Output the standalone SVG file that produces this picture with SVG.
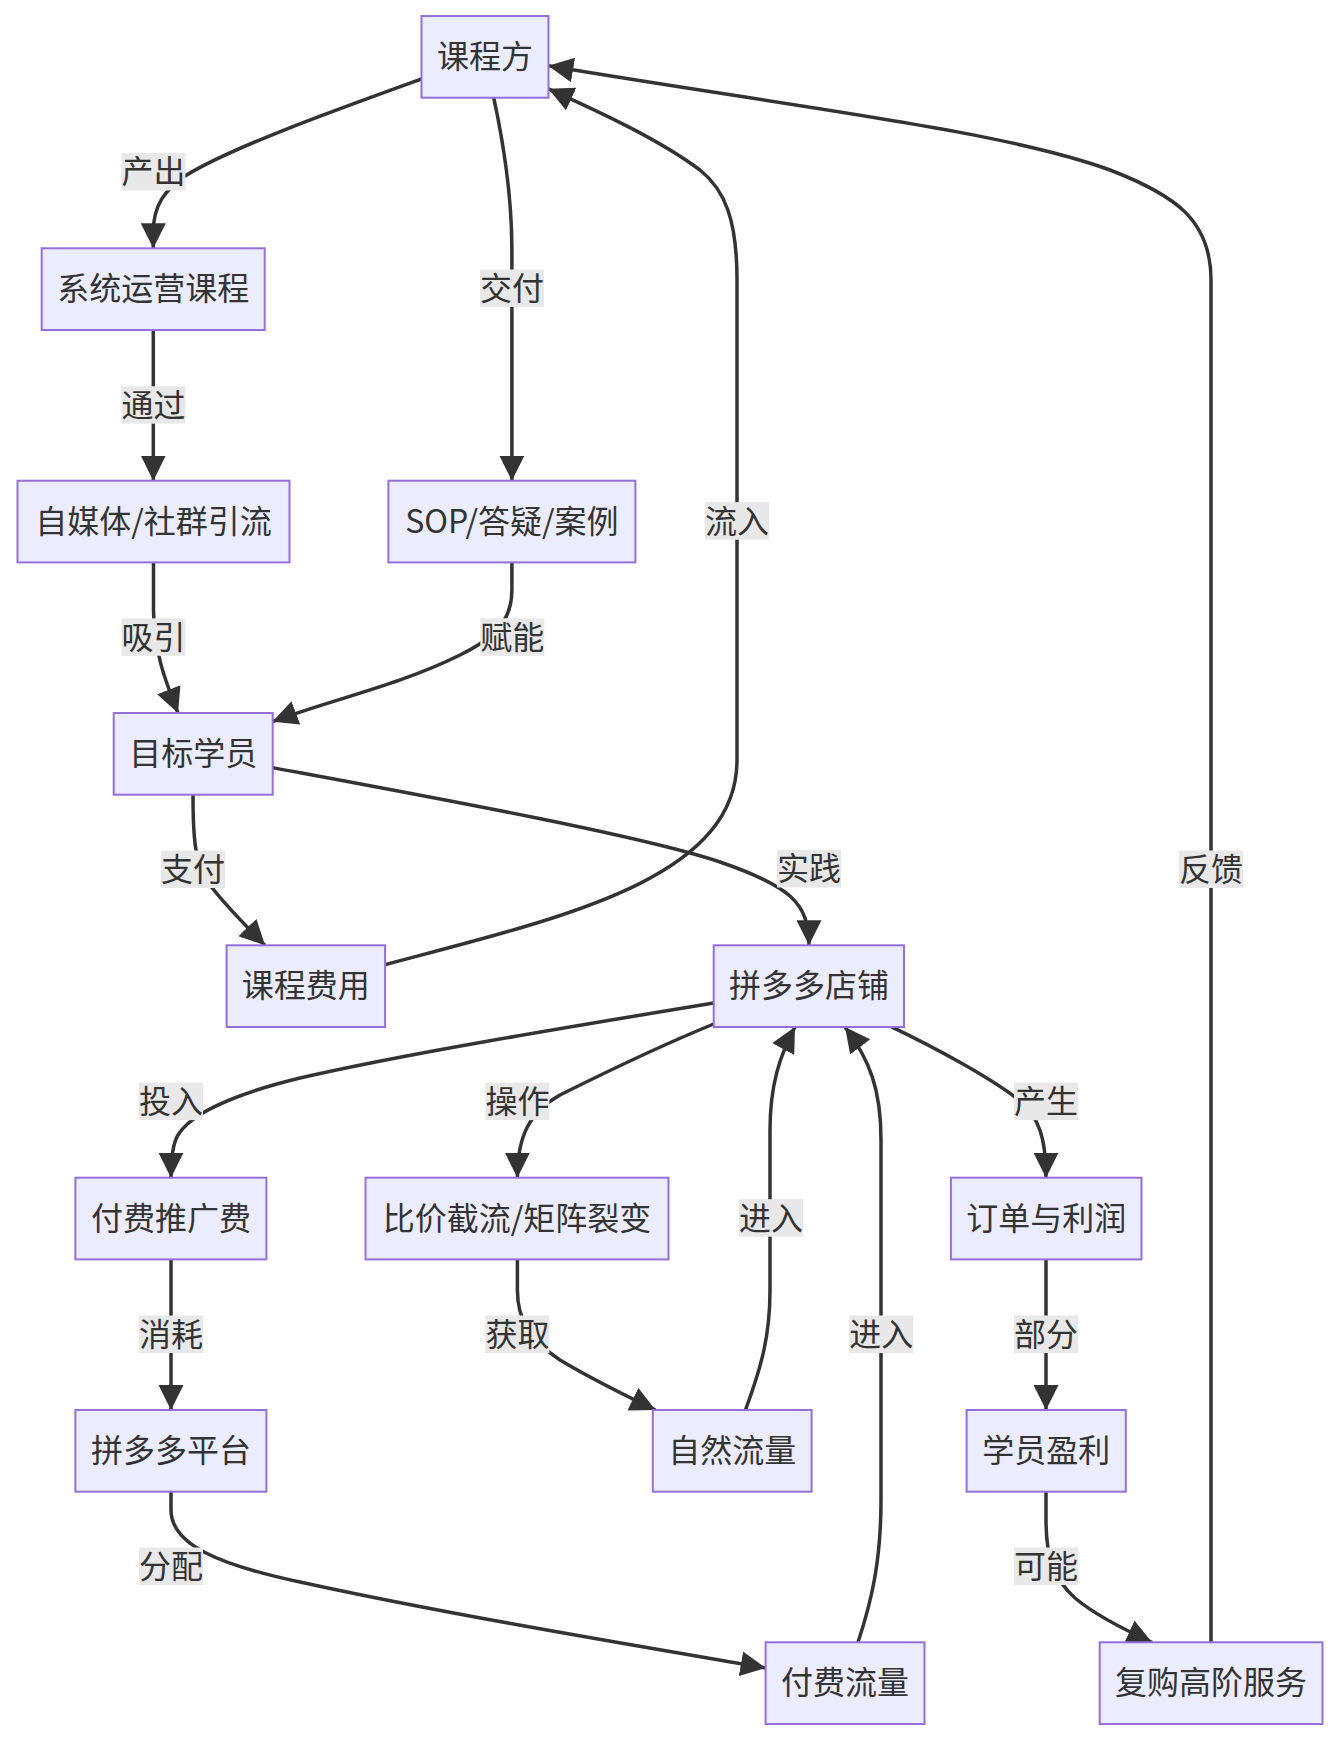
<svg xmlns="http://www.w3.org/2000/svg" width="1340" height="1742" viewBox="0 0 1340 1742">
<defs>
<style>
.node rect{fill:#ECECFF;stroke:#9370DB;stroke-width:2}
.node text{font-family:"Noto Sans CJK SC","Noto Sans",sans-serif;font-size:32px;fill:#333333;text-anchor:middle;dominant-baseline:central}
.edges path{fill:none;stroke:#333333;stroke-width:3.5}
.lbl rect{fill:#e8e8e8}
.lbl text{font-family:"Noto Sans CJK SC","Noto Sans",sans-serif;font-size:32px;fill:#333333;text-anchor:middle;dominant-baseline:central}
</style>
<marker id="arr" viewBox="0 0 10 10" refX="10" refY="5" markerUnits="userSpaceOnUse" markerWidth="25" markerHeight="25" orient="auto">
<path d="M0,0 L10,5 L0,10 z" fill="#333333"/>
</marker>
</defs>
<rect x="0" y="0" width="1340" height="1742" fill="#ffffff"/>
<g class="edges" id="connectors">
<path marker-end="url(#arr)" d="M421.4,79 C330,112 230,148 185,176 C165,190 153.3,205 153.3,232 L153.3,248.3"/>
<path marker-end="url(#arr)" d="M493.7,97.7 C505,150 511.9,200 511.9,250 L511.9,480.7"/>
<path marker-end="url(#arr)" d="M153.3,330 L153.3,480.7"/>
<path marker-end="url(#arr)" d="M153.5,562.4 L153.5,610 C153.5,650 165,680 178,713"/>
<path marker-end="url(#arr)" d="M511.9,562.4 L511.9,590 C511.9,625 490,640 460,655 C400,685 330,700 272.5,721.7"/>
<path marker-end="url(#arr)" d="M193,794.7 C193,840 195,865 210,885 C225,905 245,925 265,945.3"/>
<path marker-end="url(#arr)" d="M272.5,767.6 C420,795 640,835 720,862 C790,886 809,903 809,945.3"/>
<path marker-end="url(#arr)" d="M385,964.7 C560,918 737,880 737,760 L737,280 C737,220 725,190 700,170 C660,140 600,112 548.4,88.8"/>
<path marker-end="url(#arr)" d="M713.7,1003 C550,1030 400,1055 300,1078 C230,1095 190,1115 178,1135 C172,1145 171,1160 171,1177.7"/>
<path marker-end="url(#arr)" d="M713.7,1024 C650,1050 600,1075 560,1095 C530,1112 517.4,1135 517.4,1177.7"/>
<path marker-end="url(#arr)" d="M891.6,1026.8 C940,1050 990,1078 1015,1097 C1040,1115 1046,1140 1046,1177.7"/>
<path marker-end="url(#arr)" d="M171,1259.4 L171,1410"/>
<path marker-end="url(#arr)" d="M517.4,1259.4 L517.4,1290 C517.4,1320 530,1340 560,1360 C590,1378 620,1393 655.5,1410"/>
<path marker-end="url(#arr)" d="M745.4,1410 C762,1365 770,1335 770,1290 L770,1130 C770,1085 780,1055 795,1027"/>
<path marker-end="url(#arr)" d="M171,1491.7 L171,1510 C171,1545 220,1565 300,1582 C450,1615 650,1648 765.6,1668"/>
<path marker-end="url(#arr)" d="M858,1642.3 C872,1600 881,1560 881,1500 L881,1140 C881,1090 870,1060 845,1027"/>
<path marker-end="url(#arr)" d="M1046,1259.4 L1046,1410"/>
<path marker-end="url(#arr)" d="M1046,1491.7 L1046,1520 C1046,1560 1055,1580 1075,1598 C1095,1615 1125,1630 1152,1642.3"/>
<path marker-end="url(#arr)" d="M1211,1642.3 L1211,280 C1211,220 1175,195 1110,170 C1000,130 800,108 548.4,65.8"/>
</g>
<g id="edge-labels">
<g class="lbl"><rect x="121.4" y="153" width="64" height="37.5"/><text x="153.4" y="169.3">产出</text></g>
<g class="lbl"><rect x="480" y="269.5" width="64" height="37.5"/><text x="512" y="285.8">交付</text></g>
<g class="lbl"><rect x="121.4" y="386.2" width="64" height="37.5"/><text x="153.4" y="402.5">通过</text></g>
<g class="lbl"><rect x="705" y="502.2" width="64" height="37.5"/><text x="737" y="518.5">流入</text></g>
<g class="lbl"><rect x="121.4" y="618.3" width="64" height="37.5"/><text x="153.4" y="634.5">吸引</text></g>
<g class="lbl"><rect x="480.3" y="618.3" width="64" height="37.5"/><text x="512.3" y="634.5">赋能</text></g>
<g class="lbl"><rect x="161" y="850.5" width="64" height="37.5"/><text x="193" y="866.8">支付</text></g>
<g class="lbl"><rect x="777" y="850" width="64" height="37.5"/><text x="809" y="866.3">实践</text></g>
<g class="lbl"><rect x="1179" y="850.5" width="64" height="37.5"/><text x="1211" y="866.8">反馈</text></g>
<g class="lbl"><rect x="139" y="1082.6" width="64" height="37.5"/><text x="171" y="1098.9">投入</text></g>
<g class="lbl"><rect x="485.4" y="1082.6" width="64" height="37.5"/><text x="517.4" y="1098.9">操作</text></g>
<g class="lbl"><rect x="1014" y="1082.6" width="64" height="37.5"/><text x="1046" y="1098.9">产生</text></g>
<g class="lbl"><rect x="739" y="1199.2" width="64" height="37.5"/><text x="771" y="1215.5">进入</text></g>
<g class="lbl"><rect x="139" y="1315.5" width="64" height="37.5"/><text x="171" y="1331.8">消耗</text></g>
<g class="lbl"><rect x="485.4" y="1315.5" width="64" height="37.5"/><text x="517.4" y="1331.8">获取</text></g>
<g class="lbl"><rect x="849.3" y="1315.5" width="64" height="37.5"/><text x="881.3" y="1331.8">进入</text></g>
<g class="lbl"><rect x="1014" y="1315.5" width="64" height="37.5"/><text x="1046" y="1331.8">部分</text></g>
<g class="lbl"><rect x="139" y="1547.5" width="64" height="37.5"/><text x="171" y="1563.8">分配</text></g>
<g class="lbl"><rect x="1014" y="1547.5" width="64" height="37.5"/><text x="1046" y="1563.8">可能</text></g>
</g>
<g class="node" id="A"><rect x="421.5" y="16" width="127" height="81.7"/><text x="485" y="54">课程方</text></g>
<g class="node" id="B"><rect x="41.7" y="248.3" width="223" height="81.7"/><text x="153.2" y="286.3">系统运营课程</text></g>
<g class="node" id="C"><rect x="17.5" y="480.7" width="272" height="81.7"/><text x="153.5" y="518.7">自媒体/社群引流</text></g>
<g class="node" id="D"><rect x="388.4" y="480.7" width="247" height="81.7"/><text x="511.9" y="518.7">SOP/答疑/案例</text></g>
<g class="node" id="E"><rect x="113.7" y="713" width="159" height="81.7"/><text x="193.2" y="751">目标学员</text></g>
<g class="node" id="F"><rect x="226.6" y="945.3" width="158.5" height="81.7"/><text x="305.8" y="983.3">课程费用</text></g>
<g class="node" id="G"><rect x="713.7" y="945.3" width="190.3" height="81.7"/><text x="808.9" y="983.3">拼多多店铺</text></g>
<g class="node" id="H"><rect x="75.4" y="1177.7" width="191" height="81.7"/><text x="170.9" y="1215.7">付费推广费</text></g>
<g class="node" id="I"><rect x="365.5" y="1177.7" width="303" height="81.7"/><text x="517" y="1215.7">比价截流/矩阵裂变</text></g>
<g class="node" id="J"><rect x="950.9" y="1177.7" width="190.6" height="81.7"/><text x="1046.2" y="1215.7">订单与利润</text></g>
<g class="node" id="K"><rect x="75.4" y="1410" width="191" height="81.7"/><text x="170.9" y="1448">拼多多平台</text></g>
<g class="node" id="L"><rect x="652.8" y="1410" width="158.8" height="81.7"/><text x="732.2" y="1448">自然流量</text></g>
<g class="node" id="M"><rect x="966.6" y="1410" width="159.2" height="81.7"/><text x="1046.2" y="1448">学员盈利</text></g>
<g class="node" id="N"><rect x="765.6" y="1642.3" width="158.9" height="81.7"/><text x="845" y="1680.3">付费流量</text></g>
<g class="node" id="O"><rect x="1099.7" y="1642.3" width="222.8" height="81.7"/><text x="1211.1" y="1680.3">复购高阶服务</text></g>
</svg>
